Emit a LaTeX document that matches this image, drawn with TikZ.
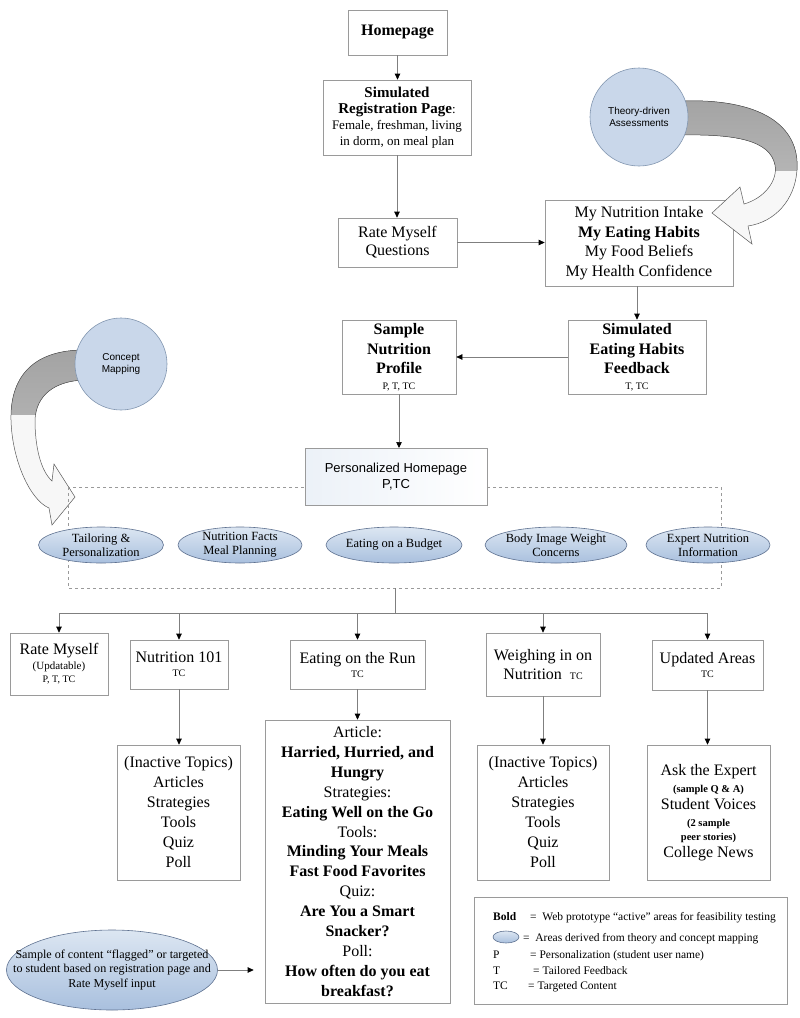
\documentclass[tikz,border=0pt]{standalone}
\usepackage{fontspec}
\setmainfont{Liberation Serif}
\setsansfont{Liberation Sans}
\usetikzlibrary{arrows.meta,shapes.geometric}
\definecolor{bord}{HTML}{9A9A9A}
\definecolor{ln}{HTML}{7F7F7F}
\definecolor{ovtop}{HTML}{DCE6F2}
\definecolor{ovbot}{HTML}{A9C0DE}
\definecolor{ovline}{HTML}{5E7190}
\definecolor{circfill}{HTML}{C9D7EA}
\definecolor{circline}{HTML}{8296B0}
\newcommand\fs[2]{\fontsize{#1}{#2}\selectfont}
\frenchspacing
\begin{document}
\begin{tikzpicture}[x=1pt,y=-1pt,
 box/.style={draw=bord, line width=0.7pt, fill=white, inner sep=0pt, align=flush center},
 line/.style={draw=ln, line width=0.7pt},
 conn/.style={line, -{Triangle[length=6pt,width=5.5pt,color=black]}},
 oval/.style={ellipse, draw=ovline, line width=0.6pt, top color=ovtop, bottom color=ovbot, inner sep=0pt, align=flush center, font=\fs{12.5}{14}},
 circ/.style={circle, draw=circline, line width=0.6pt, fill=circfill, inner sep=0pt, align=flush center, font=\sffamily\fs{10}{12.5}},
]
\useasboundingbox (0,0) rectangle (800,1018);
\fill[white] (0,0) rectangle (800,1018);

% ---------- top chain ----------
\node[box, minimum width=99pt, minimum height=45pt, text width=95pt, font=\bfseries\fs{16}{19}] (home) at (397.5,32.5) {Homepage};
\node[box, minimum width=148pt, minimum height=75pt, text width=146pt, font=\fs{13}{16}] (reg) at (397,117.5)
 {{\bfseries\fs{15}{16}Simulated}\\{\bfseries\fs{15}{16}Registration Page}:\\Female, freshman, living\\in dorm, on meal plan};
\node[box, minimum width=119pt, minimum height=49pt, text width=115pt, font=\fs{16}{18}] (rate) at (397.5,242.5) {Rate Myself\\Questions};
\node[box, minimum width=188pt, minimum height=86pt, text width=184pt, font=\fs{16}{19.5}] (intake) at (639,243)
 {My Nutrition Intake\\{\bfseries My Eating Habits}\\My Food Beliefs\\My Health Confidence};
\node[box, minimum width=138pt, minimum height=74pt, text width=134pt, font=\bfseries\fs{16}{19.5}] (feedback) at (637,357)
 {Simulated\\Eating Habits\\Feedback\\[-4pt]{\mdseries\fs{10}{12}T, TC}};
\node[box, minimum width=114pt, minimum height=74pt, text width=110pt, font=\bfseries\fs{16}{19.5}] (profile) at (399,357)
 {Sample\\Nutrition\\Profile\\[-4pt]{\mdseries\fs{10}{12}P, T, TC}};

\draw[conn] (home.south) -- (home.south |- reg.north);
\draw[conn] (reg.south) -- (reg.south |- rate.north);
\draw[conn] (rate.east) -- (rate.east -| intake.west);
\draw[conn] (feedback.north |- intake.south) -- (feedback.north);
\draw[conn] (feedback.west) -- (feedback.west -| profile.east);

% ---------- theory-driven block arrow ----------
\def\tharrow{(680,101) .. controls (760,98) and (800,125) .. (797,170)
 .. controls (795,200) and (775,222) .. (748,226) -- (752,244) -- (712,213) -- (740,187) -- (744,204)
 .. controls (765,198) and (778,180) .. (775,165) .. controls (770,140) and (735,134) .. (680,135) -- cycle}
\fill[gray!6] \tharrow;
\begin{scope}
 \clip (600,60) rectangle (800,170);
 \fill[top color=gray!72, bottom color=gray!45] \tharrow;
\end{scope}
\draw[gray!70!black, line width=0.5pt] \tharrow;
\node[circ, minimum size=98pt] (theory) at (639,117) {Theory-driven\\Assessments};

% ---------- concept mapping block arrow ----------
\def\cmarrow{(84,350) .. controls (30,350) and (10,380) .. (11,420)
 .. controls (12,460) and (30,500) .. (49,508) -- (52,525) -- (75,497) -- (54,464) -- (52,481)
 .. controls (40,470) and (35,445) .. (35,420) .. controls (36,395) and (55,381) .. (84,380) -- cycle}
\fill[gray!6] \cmarrow;
\begin{scope}
 \clip (0,300) rectangle (120,414);
 \fill[top color=gray!72, bottom color=gray!45] \cmarrow;
\end{scope}
\draw[gray!70!black, line width=0.5pt] \cmarrow;
\node[circ, minimum size=92pt] (concept) at (121,364) {Concept\\Mapping};

% ---------- dashed area with ovals ----------
\draw[bord, dashed, line width=0.7pt] (68,487) rectangle (721,588);
\coordinate (dashbot) at (395,588);
\draw[conn] (profile.south) -- (profile.south |- 0,448);
\node[box, minimum width=182pt, minimum height=57pt, text width=178pt, left color=ovtop!55, right color=white, font=\sffamily\fs{13}{15.5}] (phome) at (396,476.5)
 {Personalized Homepage\\P,TC};

\node[oval, minimum width=125pt, minimum height=36pt] (o1) at (101,545) {Tailoring \&\\Personalization};
\node[oval, minimum width=124pt, minimum height=36pt] (o2) at (240,545) {Nutrition Facts\\Meal Planning};
\node[oval, minimum width=123pt, minimum height=36pt] (o3) at (394,545) {Eating on a Budget};
\node[oval, minimum width=138pt, minimum height=36pt] (o4) at (556,545) {Body Image Weight\\Concerns};
\node[oval, minimum width=124pt, minimum height=36pt] (o5) at (708,545) {Expert Nutrition\\Information};

% ---------- second level ----------
\node[box, minimum width=98pt, minimum height=62pt, text width=96pt, font=\fs{16}{18}] (rm) at (59,664)
 {Rate Myself\\[-3pt]{\fs{11}{13}(Updatable)}\\[-5pt]{\fs{10}{12}P, T, TC}};
\node[box, minimum width=98pt, minimum height=49pt, text width=96pt, font=\fs{16}{18}] (n101) at (179,664.5)
 {Nutrition 101\\[-4pt]{\fs{10}{12}TC}};
\node[box, minimum width=135pt, minimum height=49pt, text width=133pt, font=\fs{16}{18}] (run) at (357.5,664.5)
 {Eating on the Run\\[-4pt]{\fs{10}{12}TC}};
\node[box, minimum width=114pt, minimum height=63pt, text width=112pt, font=\fs{16}{19}] (weigh) at (543,664.5)
 {Weighing in on\\Nutrition~~{\fs{10}{12}TC}};
\node[box, minimum width=111pt, minimum height=50pt, text width=109pt, font=\fs{16}{18}] (upd) at (707.5,665)
 {Updated Areas\\[-4pt]{\fs{10}{12}TC}};

\coordinate (bus) at (395,613);
\draw[line] (dashbot) -- (bus);
\draw[line] (rm.north |- bus) -- (upd.north |- bus);
\foreach \n in {rm,n101,run,weigh,upd} {\draw[conn] (\n.north |- bus) -- (\n.north);}

% ---------- third level ----------
\node[box, minimum width=123pt, minimum height=135pt, text width=121pt, font=\fs{16}{20}] (in1) at (178.5,812.5)
 {(Inactive Topics)\\Articles\\Strategies\\Tools\\Quiz\\Poll};
\node[box, minimum width=185pt, minimum height=283pt, text width=183pt, font=\fs{16}{19.9}] (art) at (357.5,861.5)
 {Article:\\{\bfseries Harried, Hurried, and}\\{\bfseries Hungry}\\Strategies:\\{\bfseries Eating Well on the Go}\\Tools:\\{\bfseries Minding Your Meals}\\{\bfseries Fast Food Favorites}\\Quiz:\\{\bfseries Are You a Smart}\\{\bfseries Snacker?}\\Poll:\\{\bfseries How often do you eat}\\{\bfseries breakfast?}};
\node[box, minimum width=132pt, minimum height=135pt, text width=130pt, font=\fs{16}{20}] (in2) at (543,812.5)
 {(Inactive Topics)\\Articles\\Strategies\\Tools\\Quiz\\Poll};
\node[box, minimum width=123pt, minimum height=135pt, text width=121pt, font=\fs{16}{17}] (ask) at (708.5,812.5)
 {Ask the Expert\\{\bfseries\fs{10.5}{12}(sample Q \& A)}\\Student Voices\\{\bfseries\fs{10.5}{12}(2 sample}\\[-3pt]{\bfseries\fs{10.5}{12}peer stories)}\\College News};

\draw[conn] (n101.south) -- (n101.south |- in1.north);
\draw[conn] (run.south) -- (run.south |- art.north);
\draw[conn] (weigh.south) -- (weigh.south |- in2.north);
\draw[conn] (upd.south) -- (upd.south |- ask.north);

% ---------- sample oval ----------
\node[oval, inner xsep=-27pt, inner ysep=7pt, minimum width=211pt, minimum height=80pt, font=\fs{12.1}{14.8}] (sample) at (112,970)
 {Sample of content “flagged” or targeted\\to student based on registration page and\\Rate Myself input};
\draw[conn, shorten >=11pt] (sample.east) -- (sample.east -| art.west);

% ---------- legend ----------
\node[box, minimum width=313pt, minimum height=107pt] (leg) at (631,950.5) {};
\begin{scope}[every node/.style={anchor=base west, inner sep=0pt, font=\fs{11.5}{13}}]
\node (l1a) at (493,920) {\textbf{Bold}};
\node (l1b) at (530,920) {=~~Web prototype “active” areas for feasibility testing};
\node[oval, anchor=center, minimum width=26pt, minimum height=12pt] (licon) at (506,937) {};
\node (l2b) at (523,941) {=~~Areas derived from theory and concept mapping};
\node (l3a) at (493,958) {P};
\node (l3b) at (530,958) {= Personalization (student user name)};
\node (l4a) at (493,974) {T};
\node (l4b) at (533,974) {= Tailored Feedback};
\node (l5a) at (493,989) {TC};
\node (l5b) at (528,989) {= Targeted Content};
\end{scope}
\end{tikzpicture}
\end{document}
